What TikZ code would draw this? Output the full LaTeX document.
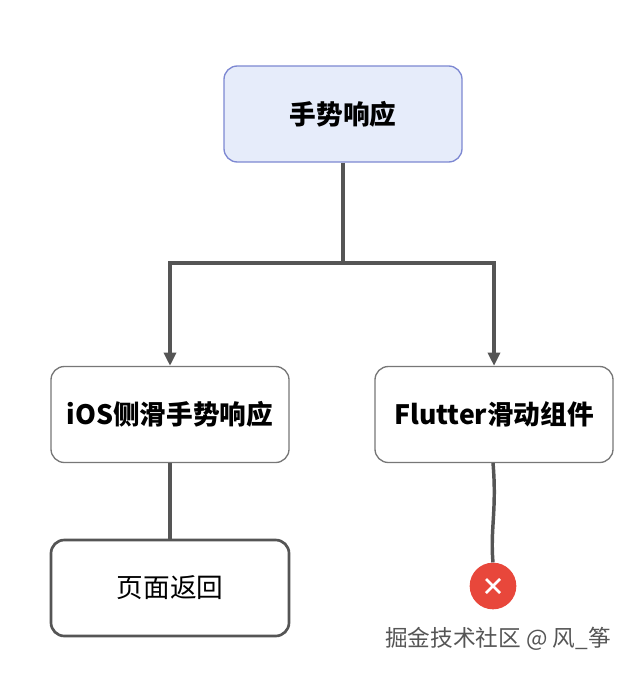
\documentclass[tikz,border=0pt]{standalone}
\usepackage{fontspec}
\setmainfont{Noto Sans CJK SC}
\usetikzlibrary{arrows.meta,calc}
\definecolor{ln}{HTML}{555555}
\definecolor{tf}{HTML}{E6ECFA}
\definecolor{tb}{HTML}{7D88D2}
\definecolor{xr}{HTML}{E8473B}
\begin{document}
\begin{tikzpicture}[x=0.75pt,y=-0.75pt,
 box/.style={draw=ln!80,line width=1pt,rounded corners=10pt,fill=white,minimum width=178.5pt,minimum height=72pt,font=\fontsize{20}{24}\selectfont\bfseries},
 con/.style={draw=ln,line width=2.6pt},
 arr/.style={con,-{Triangle[length=10pt,width=9pt]}}]
\useasboundingbox (0,0) rectangle (640,674);
\node[box,draw=tb,fill=tf] (top) at (343,114) {手势响应};
\node[box] (ios) at (170,414.5) {iOS侧滑手势响应};
\node[box] (fl) at (494,414.5) {Flutter滑动组件};
\node[box,line width=2pt,draw=ln,font=\fontsize{20}{24}\selectfont] (back) at (170,588) {页面返回};
\node[circle,fill=xr,minimum size=35pt,inner sep=0pt] (x) at (493,586) {};
\draw[white,line width=2pt] ($(x)+(-7,-7)$) -- ($(x)+(7,7)$) ($(x)+(-7,7)$) -- ($(x)+(7,-7)$);
\coordinate (j) at (343,263);
\draw[con] (top.south) -- (j);
\draw[arr] (j) -| (ios.north);
\draw[arr] (j) -| (fl.north);
\draw[con] (ios.south) -- (back.north);
\draw[con] (493,463) .. controls (497,510) and (490,530) .. (x.north);
\node[text=ln,font=\fontsize{17}{20}\selectfont] (wm) at (498,639) {掘金技术社区 @ 风\_筝};
\end{tikzpicture}
\end{document}
